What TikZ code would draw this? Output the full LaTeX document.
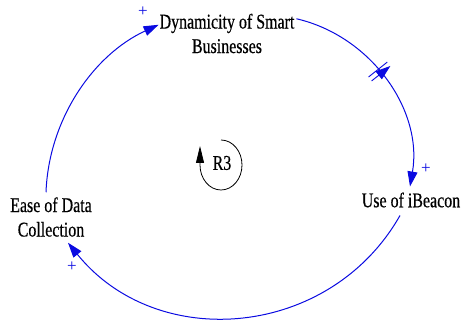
\documentclass[tikz,border=0pt]{standalone}
\usepackage{fontspec}
\setmainfont{Liberation Serif}[FakeStretch=0.76,FakeBold=0.4]
\newfontfamily\plusfont{Liberation Serif}
\usetikzlibrary{arrows.meta,calc,decorations.markings}
\definecolor{linkblue}{RGB}{10,10,225}
\begin{document}
\begin{tikzpicture}[x=1pt,y=1pt,
  lbl/.style={font=\fontsize{21}{24.5}\selectfont, align=center, inner sep=0pt, outer sep=0pt},
  link/.style={draw=linkblue, line width=1pt, -{Triangle[length=15pt,width=10pt]}},
  plussign/.style={text=linkblue, font=\plusfont\fontsize{17}{17}\selectfont, inner sep=0pt},
  delaymark/.style={postaction={decorate, decoration={markings,
      mark=at position 0.45 with {\draw[linkblue, line width=0.9pt] (-2.5pt,-12pt) -- (-2.5pt,12pt) (2.5pt,-12pt) -- (2.5pt,12pt);}}}},
  loopline/.style={draw=black, line width=0.8pt, -{Triangle[length=17pt,width=8pt]}}
]
\useasboundingbox (0,0) rectangle (462,320);
\node[lbl] (dyn) at (227,286.5) {Dynamicity of Smart\\Businesses};
\node[lbl] (use) at (411,120) {Use of iBeacon};
\node[lbl] (ease) at (51,103) {Ease of Data\\Collection};
\node[lbl] (r3) at (222,157) {R3};
% connectors
\draw[link, delaymark] ($(dyn.north east)+(2,-5)$) .. controls (371,284) and (423,210) .. ($(use.north)+(-1,6)$);
\draw[link] ($(use.south)+(-11,-8)$) .. controls (330,-18.7) and (157,-33) .. ($(ease.south)+(17,-6)$);
\draw[link] ($(ease.north)+(-5,5)$) .. controls (48.7,200.3) and (93,265) .. ($(dyn.north west)+(-1,-11)$);
% polarity signs
\node[plussign] (p1) at (143,308) {+};
\node[plussign] (p2) at (426,151) {+};
\node[plussign] (p3) at (72,53) {+};
% loop symbol
\draw[loopline] (221,180) arc[start angle=90, end angle=-180, x radius=21, y radius=25] -- ++(0,19);
\end{tikzpicture}
\end{document}
